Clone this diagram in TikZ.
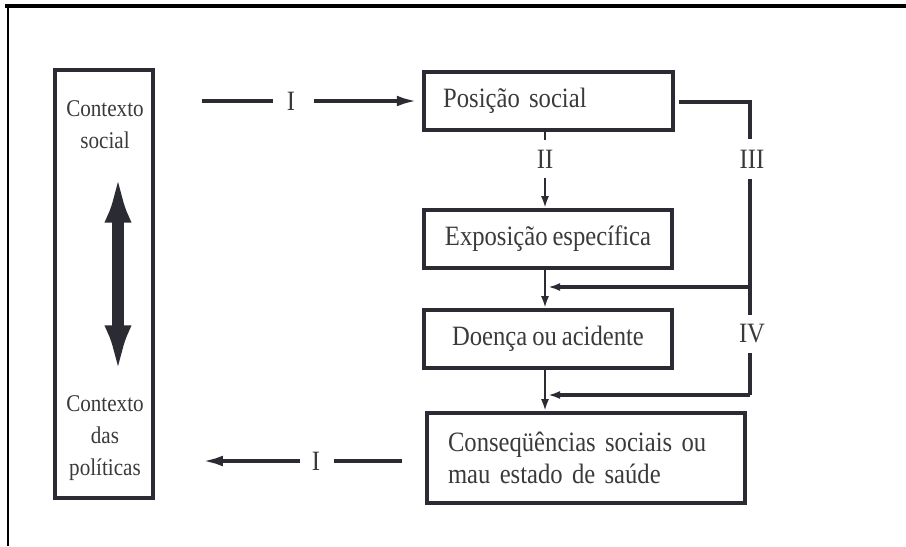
\documentclass[tikz,border=0pt]{standalone}
\usepackage{fontspec}
\setmainfont[FakeStretch=0.88,WordSpace=0.8]{Liberation Serif}
\usetikzlibrary{arrows.meta}
\definecolor{ink}{HTML}{2B2B33}
\definecolor{txt}{HTML}{3A3A3A}

\tikzset{
  box/.style={draw=ink, line width=2.8pt, inner sep=0pt, font=\fontsize{21}{24}\selectfont, text=txt},
  lbl/.style={inner sep=0pt, font=\fontsize{21}{24}\selectfont, text=txt},
  sidelbl/.style={inner sep=0pt, font=\fontsize{18}{24}\selectfont, text=txt},
  link/.style={draw=ink, line width=3pt},
  thin link/.style={draw=ink, line width=2pt},
  bigtip/.style={-{Latex[length=16pt,width=8pt]}},
  smalltip/.style={-{Latex[length=9pt,width=6pt]}}
}

\begin{document}
\begin{tikzpicture}[x=0.75pt,y=0.75pt,yscale=-1,xscale=1]
		\useasboundingbox (0,0) rectangle (906,546);
		% frame
		\draw [black, line width=2.4pt] (5,6) -- (906,6) ;
		\draw [black, line width=1.1pt] (8,6) -- (8,546) ;
		% boxes
		\node [box, minimum width=73.5pt, minimum height=321pt] (ctx) at (104,284) {};
		\node [sidelbl, align=center] (ctxsoc) at (105,125) {Contexto\\social};
		\node [sidelbl, align=center] (ctxpol) at (105,438) {Contexto\\das\\políticas};
		\node [box, minimum width=186.75pt, minimum height=43.5pt, text width=158pt, align=left] (pos) at (548.5,101) {Posição social};
		\node [box, minimum width=186pt, minimum height=43.5pt, align=center] (exp) at (548,239) {Exposição específica};
		\node [box, minimum width=186pt, minimum height=43.5pt, align=center] (doe) at (548,339) {Doença ou acidente};
		\node [box, minimum width=238.5pt, minimum height=67.5pt, text width=207pt, align=left] (con) at (586,458) {Conseqüências sociais ou\\mau estado de saúde};
		% labels
		\node [lbl] (iup) at (291,101) {I};
		\node [lbl] (idown) at (316,461) {I};
		\node [lbl] (ii) at (545,159) {II};
		\node [lbl] (iii) at (752,159) {III};
		\node [lbl] (iv) at (752,334) {IV};
		% connector ends
		\coordinate (c1) at (750,102);
		\coordinate (c2) at (750,287);
		\coordinate (c3) at (750,395);
		\coordinate (c4) at (548,287);
		\coordinate (c5) at (548,395);
		\coordinate (d1) at (118,172);
		\coordinate (d2) at (118,376);
		% double arrow in context box
		\draw [draw=ink, line width=9pt, {Latex[length=38pt,width=20pt]}-{Latex[length=38pt,width=20pt]}] (d1) -- (d2) ;
		% I
		\draw [link] ([xshift=35pt]ctx.east |- iup) -- ([xshift=-10pt]iup.west) ;
		\draw [link, bigtip] ([xshift=14pt]iup.east) -- ([xshift=-3pt]pos.west) ;
		\draw [link] ([xshift=-17pt]con.west |- idown) -- ([xshift=10pt]idown.east) ;
		\draw [link, bigtip] ([xshift=-9pt]idown.west) -- ([xshift=35pt]ctx.east |- idown) ;
		% II
		\draw [thin link] (pos.south -| ii) -- ([yshift=-7pt]ii.north) ;
		\draw [thin link, smalltip] ([yshift=7pt]ii.south) -- (exp.north -| ii) ;
		\draw [thin link, smalltip] (exp.south -| ii) -- (doe.north -| ii) ;
		\draw [thin link, smalltip] (doe.south -| ii) -- (con.north -| ii) ;
		% III and IV
		\draw [link] ([xshift=3pt]pos.east |- c1) -- (c1) -- ([yshift=-8pt]iii.north -| c1) ;
		\draw [link] ([yshift=8pt]iii.south -| c1) -- ([yshift=-7pt]iv.north -| c1) ;
		\draw [link] ([yshift=7pt]iv.south -| c1) -- (c3) ;
		\draw [link, smalltip] (c2) -- (c4) ;
		\draw [link, smalltip] (c3) -- (c5) ;
		\end{tikzpicture}
\end{document}
